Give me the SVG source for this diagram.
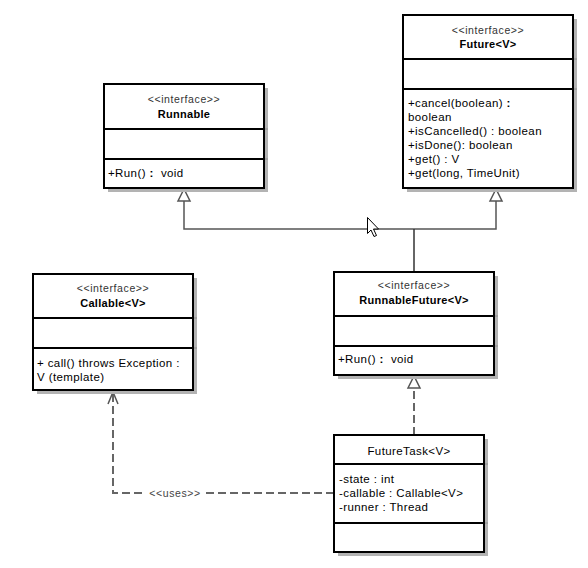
<svg xmlns="http://www.w3.org/2000/svg" width="588" height="568" viewBox="0 0 588 568">
<defs>
<style>
.bg{fill:#ffffff}
.shadow{fill:#b3b3b3}
.box{fill:#ffffff;stroke:#000000;stroke-width:2}
.div{stroke:#000000;stroke-width:2}
.sdiv{stroke:#8c8c8c;stroke-width:1}
text{font-family:"Liberation Sans",Arial,sans-serif;font-size:11.5px;letter-spacing:0.4px;fill:#000000}
.stereo{font-size:10.5px;letter-spacing:0.6px;fill:#333333}
.name{font-weight:bold;font-size:11px;letter-spacing:0.3px}
.c{text-anchor:middle}
.b{font-weight:bold}
.line{fill:none;stroke:#555555;stroke-width:1.5}
.dash{fill:none;stroke:#666666;stroke-width:2;stroke-dasharray:8 4}
.tri{fill:#ffffff;stroke:#555555;stroke-width:1.5}
.open{fill:none;stroke:#555555;stroke-width:1.5}
.lbl{font-size:10.5px;letter-spacing:0.6px;fill:#444444}
</style>
</defs>
<rect class="bg" x="0" y="0" width="588" height="568"/>

<g id="connectors">
<polyline class="line" points="184,201 184,229 496,229 496,201"/>
<line class="line" x1="414" y1="229" x2="414" y2="272" style="stroke:#333333"/>
<polygon class="tri" points="184,189 178,201 190,201"/>
<polygon class="tri" points="496,189 490,201 502,201"/>
<line class="dash" x1="414" y1="435" x2="414" y2="388"/>
<polygon class="tri" points="414,376 408,388 420,388"/>
<polyline class="dash" points="334,493 113,493 113,392"/>
<polyline class="open" points="108,404 113,392 118,404"/>
<rect x="146" y="486" width="58" height="13" fill="#ffffff"/>
<text class="lbl c" x="175" y="497">&lt;&lt;uses&gt;&gt;</text>
</g>

<g id="runnable">
<rect class="shadow" x="108" y="88" width="160" height="104"/>
<line class="sdiv" x1="264" y1="129" x2="268" y2="129"/>
<line class="sdiv" x1="264" y1="159" x2="268" y2="159"/>
<rect class="box" x="104" y="84" width="160" height="104"/>
<line class="div" x1="104" y1="129" x2="264" y2="129"/>
<line class="div" x1="104" y1="159" x2="264" y2="159"/>
<text class="stereo c" x="184" y="103">&lt;&lt;interface&gt;&gt;</text>
<text class="name c" x="184" y="118">Runnable</text>
<text x="108" y="177" xml:space="preserve">+Run() <tspan class="b">:</tspan>  void</text>
</g>

<g id="future">
<rect class="shadow" x="407" y="19" width="170" height="173"/>
<line class="sdiv" x1="573" y1="59" x2="577" y2="59"/>
<line class="sdiv" x1="573" y1="89" x2="577" y2="89"/>
<rect class="box" x="403" y="15" width="170" height="173"/>
<line class="div" x1="403" y1="59" x2="573" y2="59"/>
<line class="div" x1="403" y1="89" x2="573" y2="89"/>
<text class="stereo c" x="488" y="34">&lt;&lt;interface&gt;&gt;</text>
<text class="name c" x="488" y="48">Future&lt;V&gt;</text>
<text x="408" y="107">+cancel(boolean) <tspan class="b">:</tspan></text>
<text x="408" y="121">boolean</text>
<text x="408" y="135">+isCancelled() : boolean</text>
<text x="408" y="149">+isDone(): boolean</text>
<text x="408" y="163">+get() : V</text>
<text x="408" y="177">+get(long, TimeUnit)</text>
</g>

<g id="callable">
<rect class="shadow" x="37" y="278" width="160" height="116"/>
<line class="sdiv" x1="193" y1="318" x2="197" y2="318"/>
<line class="sdiv" x1="193" y1="348" x2="197" y2="348"/>
<rect class="box" x="33" y="274" width="160" height="116"/>
<line class="div" x1="33" y1="318" x2="193" y2="318"/>
<line class="div" x1="33" y1="348" x2="193" y2="348"/>
<text class="stereo c" x="113" y="292">&lt;&lt;interface&gt;&gt;</text>
<text class="name c" x="113" y="307">Callable&lt;V&gt;</text>
<text x="37" y="367">+ call() throws Exception :</text>
<text x="37" y="381">V (template)</text>
</g>

<g id="runnablefuture">
<rect class="shadow" x="338" y="276" width="160" height="103"/>
<line class="sdiv" x1="494" y1="316" x2="498" y2="316"/>
<line class="sdiv" x1="494" y1="346" x2="498" y2="346"/>
<rect class="box" x="334" y="272" width="160" height="103"/>
<line class="div" x1="334" y1="316" x2="494" y2="316"/>
<line class="div" x1="334" y1="346" x2="494" y2="346"/>
<text class="stereo c" x="414" y="289">&lt;&lt;interface&gt;&gt;</text>
<text class="name c" x="414" y="304">RunnableFuture&lt;V&gt;</text>
<text x="338" y="363" xml:space="preserve">+Run() <tspan class="b">:</tspan>  void</text>
</g>

<g id="futuretask">
<rect class="shadow" x="338" y="439" width="150" height="117"/>
<line class="sdiv" x1="484" y1="464" x2="488" y2="464"/>
<line class="sdiv" x1="484" y1="523" x2="488" y2="523"/>
<rect class="box" x="334" y="435" width="150" height="117"/>
<line class="div" x1="334" y1="464" x2="484" y2="464"/>
<line class="div" x1="334" y1="523" x2="484" y2="523"/>
<text class="c" x="409" y="455">FutureTask&lt;V&gt;</text>
<text x="339" y="483">-state : int</text>
<text x="339" y="497">-callable : Callable&lt;V&gt;</text>
<text x="339" y="511">-runner : Thread</text>
</g>

<g id="cursor">
<path d="M367.5,217.5 L367.5,233.5 L371,230 L374,236.5 L376.5,235.5 L373.5,229 L378.5,229 Z" fill="#ffffff" stroke="#000000" stroke-width="1"/>
</g>
</svg>
